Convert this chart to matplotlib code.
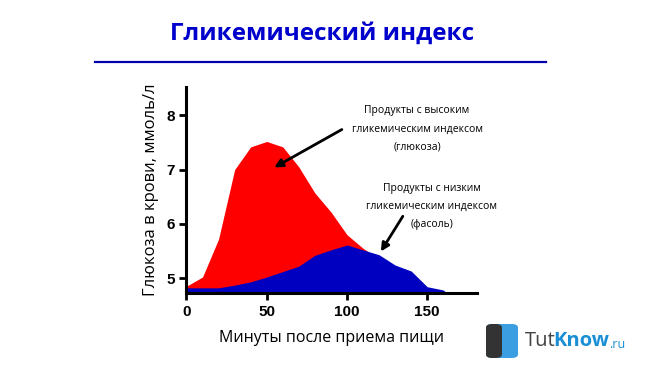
import matplotlib.pyplot as plt
from matplotlib.patches import FancyBboxPatch
from matplotlib.lines import Line2D

# glucose curve (high GI, red) and bean curve (low GI, blue)
minutes_high = [0, 10, 20, 30, 40, 50, 60, 70, 80, 90, 100, 110, 120]
glucose_high = [4.85, 5.02, 5.72, 7.0, 7.42, 7.52, 7.42, 7.05, 6.57, 6.22, 5.8, 5.55, 5.35]

minutes_low = [0, 10, 20, 30, 40, 50, 60, 70, 80, 90, 100, 110, 120, 130, 140, 150, 160, 162]
glucose_low = [4.82, 4.82, 4.82, 4.87, 4.93, 5.02, 5.12, 5.22, 5.42, 5.52, 5.61, 5.52,
               5.43, 5.24, 5.13, 4.84, 4.78, 4.73]

x_ticks = [0, 50, 100, 150]
y_ticks = [5, 6, 7, 8]

title = "Гликемический индекс"
xlabel = "Минуты после приема пищи"
ylabel = "Глюкоза в крови, ммоль/л"
note_high = "Продукты с высоким\nгликемическим индексом\n(глюкоза)"
note_low = "Продукты с низким\nгликемическим индексом\n(фасоль)"

y_min, y_max = 4.73, 8.53

fig = plt.figure(figsize=(6.5, 3.7), dpi=100)
ax = fig.add_axes([0.2869, 0.2089, 0.4469, 0.5568])

ax.fill_between(minutes_high, y_min, glucose_high, color="#ff0000", lw=0)
ax.fill_between(minutes_low, y_min, glucose_low, color="#0000c0", lw=0)

ax.set_xlim(0, 181)
ax.set_ylim(y_min, y_max)
ax.set_xticks(x_ticks)
ax.set_yticks(y_ticks)
for s in ["top", "right"]:
    ax.spines[s].set_visible(False)
for s in ["left", "bottom"]:
    ax.spines[s].set_linewidth(2.2)
ax.tick_params(width=2, length=5, labelsize=11)
for lab in ax.get_xticklabels() + ax.get_yticklabels():
    lab.set_fontweight("bold")
    lab.set_family("Liberation Sans")

ax.set_xlabel(xlabel, fontsize=11.5, family="Open Sans", labelpad=8)
ax.set_ylabel(ylabel, fontsize=12, family="Open Sans", labelpad=5)

arrow = dict(arrowstyle="-|>", lw=2, color="black", mutation_scale=12,
             shrinkA=0, shrinkB=0)
ax.text(143.7, 7.75, note_high, fontsize=7.5, family="Open Sans",
        ha="center", va="center", linespacing=1.9)
ax.annotate("", xy=(54.7, 7.04), xytext=(96.8, 7.74), arrowprops=arrow)
ax.text(152.9, 6.32, note_low, fontsize=7.5, family="Open Sans",
        ha="center", va="center", linespacing=1.9)
ax.annotate("", xy=(121.1, 5.49), xytext=(134.8, 6.14), arrowprops=arrow)

# title and rule
fig.text(0.496, 0.91, title, fontsize=17.5, fontweight="bold", color="#0000cc",
         family="Open Sans", ha="center", va="center")
fig.add_artist(Line2D([95 / 650, 546 / 650], [1 - 61.5 / 370] * 2,
                      color="#0000aa", lw=1.6))

# watermark
fig.add_artist(FancyBboxPatch((486 / 650, 1 - 358 / 370), 32 / 650, 34 / 370,
                              boxstyle="round,pad=0,rounding_size=0.01",
                              fc="#3a9ee0", ec="none", transform=fig.transFigure))
fig.add_artist(FancyBboxPatch((486 / 650, 1 - 358 / 370), 16 / 650, 34 / 370,
                              boxstyle="round,pad=0,rounding_size=0.01",
                              fc="#333333", ec="none", transform=fig.transFigure))
fig.text(525 / 650, 1 - 341 / 370, "Tut", fontsize=14.5, color="#444444",
         family="Open Sans", ha="left", va="center")
fig.text(553 / 650, 1 - 341 / 370, "Know", fontsize=14.5, color="#1a8fd6",
         family="Open Sans", fontweight="bold", ha="left", va="center")
fig.text(609 / 650, 1 - 344 / 370, ".ru", fontsize=9, color="#1a8fd6",
         family="Open Sans", ha="left", va="center")

fig.savefig("out.png", dpi=100)
